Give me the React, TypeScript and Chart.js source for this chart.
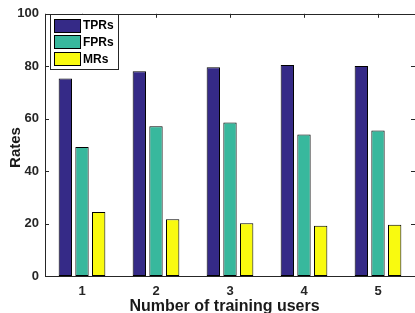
import React, { useEffect, useRef } from "react";
import { Chart, registerables } from "chart.js";

Chart.register(...registerables);

const categories = ["1", "2", "3", "4", "5"];
const tprs = [75.3, 78.1, 79.6, 80.5, 80.1];
const fprs = [49.2, 57.1, 58.5, 54.0, 55.5];
const mrs = [24.4, 21.6, 20.1, 19.2, 19.5];
const seriesNames = ["TPRs", "FPRs", "MRs"];
const seriesColors = ["#352a87", "#38b89d", "#f9fa0f"];
const yTicks = [0, 20, 40, 60, 80, 100];
const xTitle = "Number of training users";
const yTitle = "Rates";

const FONT = "'Liberation Sans', Arial, Helvetica, sans-serif";
const AXIS = "#262626";

const framePlugin = {
  id: "frame",
  afterDatasetsDraw(chart: any) {
    const { ctx, chartArea } = chart;
    const { left, right, top, bottom } = chartArea;
    const xs = chart.scales.x;
    const ys = chart.scales.y;
    ctx.save();
    ctx.strokeStyle = AXIS;
    ctx.lineWidth = 1;
    ctx.beginPath();
    ctx.moveTo(Math.round(left) + 0.5, top);
    ctx.lineTo(Math.round(left) + 0.5, bottom);
    ctx.moveTo(left, Math.round(bottom) + 0.5);
    ctx.lineTo(right, Math.round(bottom) + 0.5);
    ctx.moveTo(left, Math.round(top) + 0.5);
    ctx.lineTo(right, Math.round(top) + 0.5);
    for (const v of yTicks) {
      const y = Math.round(ys.getPixelForValue(v)) + 0.5;
      ctx.moveTo(left, y);
      ctx.lineTo(left + 4, y);
      ctx.moveTo(right, y);
      ctx.lineTo(right - 4, y);
    }
    for (let i = 0; i < categories.length; i++) {
      const x = Math.round(xs.getPixelForValue(i)) + 0.5;
      ctx.moveTo(x, top);
      ctx.lineTo(x, top + 4);
    }
    ctx.stroke();

    // legend
    const lx = 50.5, ly = 14.5, lw = 68, lh = 55;
    ctx.fillStyle = "#ffffff";
    ctx.fillRect(lx, ly, lw, lh);
    ctx.strokeStyle = AXIS;
    ctx.strokeRect(lx, ly, lw, lh);
    ctx.font = `bold 12px ${FONT}`;
    ctx.textBaseline = "middle";
    ctx.textAlign = "left";
    chart.data.datasets.forEach((ds: any, i: number) => {
      const cy = 25 + i * 16.9;
      ctx.fillStyle = ds.backgroundColor;
      ctx.fillRect(54.5, Math.round(cy - 6.5) + 0.5, 26, 13);
      ctx.strokeStyle = "#000000";
      ctx.strokeRect(54.5, Math.round(cy - 6.5) + 0.5, 26, 13);
      ctx.fillStyle = "#000000";
      ctx.fillText(ds.label, 83, cy + 0.5);
    });

    // axis titles
    ctx.fillStyle = "#1a1a1a";
    ctx.textAlign = "center";
    ctx.textBaseline = "middle";
    ctx.font = `bold 16px ${FONT}`;
    ctx.fillText(xTitle, 224.5, 307);
    ctx.font = `bold 15px ${FONT}`;
    ctx.save();
    ctx.translate(15.5, 147.5);
    ctx.rotate(-Math.PI / 2);
    ctx.fillText(yTitle, 0, 0);
    ctx.restore();
    ctx.restore();
  },
};

export default function App() {
  const ref = useRef<HTMLCanvasElement | null>(null);
  useEffect(() => {
    if (!ref.current) return;
    const values = [tprs, fprs, mrs];
    const chart = new Chart(ref.current, {
      type: "bar",
      data: {
        labels: categories,
        datasets: values.map((d, i) => ({
          label: seriesNames[i],
          data: d,
          backgroundColor: seriesColors[i],
          borderColor: "#000000",
          borderWidth: 1,
          borderSkipped: false,
          categoryPercentage: 0.676,
          barPercentage: 0.8,
        })),
      },
      options: {
        animation: false,
        responsive: false,
        layout: { padding: { top: 10, left: 0, right: 0, bottom: 0 } },
        plugins: { legend: { display: false }, tooltip: { enabled: false } },
        scales: {
          x: {
            grid: { display: false, drawTicks: false },
            border: { display: false },
            ticks: {
              padding: 8,
              color: "#262626",
              font: { family: FONT, size: 13, weight: "bold" },
            },
            afterFit: (s: any) => {
              s.height = 37;
            },
          },
          y: {
            min: 0,
            max: 100,
            grid: { display: false, drawTicks: false },
            border: { display: false },
            afterBuildTicks: (s: any) => {
              s.ticks = yTicks.map((v) => ({ value: v }));
            },
            ticks: {
              padding: 6,
              color: "#262626",
              font: { family: FONT, size: 13, weight: "bold" },
            },
            afterFit: (s: any) => {
              s.width = 45;
            },
          },
        },
      },
      plugins: [framePlugin],
    });
    return () => chart.destroy();
  }, []);
  return (
    <div style={{ position: "fixed", left: 0, top: 0, width: 415, height: 313, background: "#fff" }}>
      <canvas ref={ref} width={415} height={313} style={{ width: 415, height: 313 }} />
    </div>
  );
}
